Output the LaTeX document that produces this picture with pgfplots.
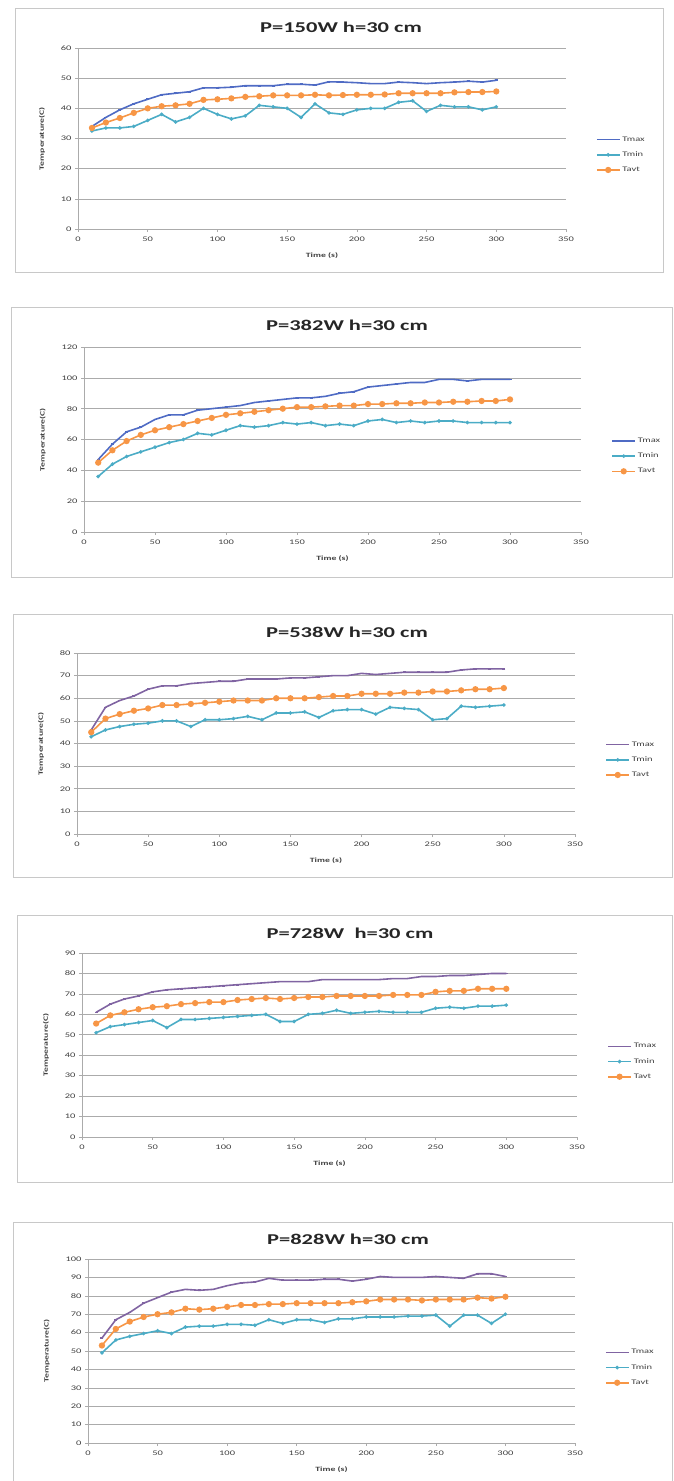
\documentclass[border=0pt]{standalone}
\usepackage{fontspec}
\setmainfont{Carlito}[FakeStretch=1.5]
\usepackage{pgfplots}
\usepackage{pgfplotstable}
\pgfplotsset{compat=1.18}
\definecolor{cmaxb}{HTML}{4F6BC4}
\definecolor{cmaxp}{HTML}{8064A2}
\definecolor{cmin}{HTML}{4BACC6}
\definecolor{cavt}{HTML}{F79646}
\definecolor{gridc}{HTML}{ABABAB}
\definecolor{boxc}{HTML}{C8C8C8}
\definecolor{txtc}{HTML}{404040}

\pgfplotstableread{
t Tmax Tmin Tavt
10 34 32.5 33.5
20 37 33.5 35.3
30 39.5 33.5 36.8
40 41.5 34 38.5
50 43 36 40
60 44.5 38 40.7
70 45 35.5 41
80 45.5 37 41.5
90 46.8 40 42.8
100 46.8 38 43
110 47 36.5 43.3
120 47.5 37.5 43.8
130 47.5 41 44
140 47.5 40.5 44.3
150 48 40 44.3
160 48 37 44.3
170 47.7 41.5 44.5
180 48.8 38.5 44.3
190 48.7 38 44.4
200 48.5 39.5 44.5
210 48.2 40 44.5
220 48.2 40 44.6
230 48.7 42 45
240 48.5 42.5 45
250 48.2 39 45
260 48.5 41 45
270 48.7 40.5 45.3
280 49 40.5 45.4
290 48.7 39.5 45.4
300 49.3 40.5 45.6
}\dA

\pgfplotstableread{
t Tmax Tmin Tavt
10 47 36 45
20 57 44 53
30 65 49 59
40 68 52 63
50 73 55 66
60 76 58 68
70 76 60 70
80 79 64 72
90 80 63 74
100 81 66 76
110 82 69 77
120 84 68 78
130 85 69 79
140 86 71 80
150 87 70 81
160 87 71 81
170 88 69 81.5
180 90 70 82
190 91 69 82
200 94 72 83
210 95 73 83
220 96 71 83.5
230 97 72 83.5
240 97 71 84
250 99 72 84
260 99 72 84.5
270 98 71 84.5
280 99 71 85
290 99 71 85
300 99 71 86
}\dB

\pgfplotstableread{
t Tmax Tmin Tavt
10 46 43 45
20 56 46 51
30 59 47.5 53
40 61 48.5 54.5
50 64 49 55.5
60 65.5 50 57
70 65.5 50 57
80 66.5 47.5 57.5
90 67 50.5 58
100 67.5 50.5 58.5
110 67.5 51 59
120 68.5 52 59
130 68.5 50.5 59
140 68.5 53.5 60
150 69 53.5 60
160 69 54 60
170 69.5 51.5 60.5
180 70 54.5 61
190 70 55 61
200 71 55 62
210 70.5 53 62
220 71 56 62
230 71.5 55.5 62.5
240 71.5 55 62.5
250 71.5 50.5 63
260 71.5 51 63
270 72.5 56.5 63.5
280 73 56 64
290 73 56.5 64
300 73 57 64.5
}\dC

\pgfplotstableread{
t Tmax Tmin Tavt
10 61 51 55.5
20 65 54 59.5
30 67.5 55 61
40 69 56 62.5
50 71 57 63.5
60 72 53.5 64
70 72.5 57.5 65
80 73 57.5 65.5
90 73.5 58 66
100 74 58.5 66
110 74.5 59 67
120 75 59.5 67.5
130 75.5 60 68
140 76 56.5 67.5
150 76 56.5 68
160 76 60 68.5
170 77 60.5 68.5
180 77 62 69
190 77 60.5 69
200 77 61 69
210 77 61.5 69
220 77.5 61 69.5
230 77.5 61 69.5
240 78.5 61 69.5
250 78.5 63 71
260 79 63.5 71.5
270 79 63 71.5
280 79.5 64 72.5
290 80 64 72.5
300 80 64.5 72.5
}\dD

\pgfplotstableread{
t Tmax Tmin Tavt
10 57 49 53
20 67 56 62
30 71 58 66
40 76 59.5 68.5
50 79 61 70
60 82 59.5 71
70 83.5 63 73
80 83 63.5 72.5
90 83.5 63.5 73
100 85.5 64.5 74
110 87 64.5 75
120 87.5 64 75
130 89.5 67 75.5
140 88.5 65 75.5
150 88.5 67 76
160 88.5 67 76
170 89 65.5 76
180 89 67.5 76
190 88 67.5 76.5
200 89 68.5 77
210 90.5 68.5 78
220 90 68.5 78
230 90 69 78
240 90 69 77.5
250 90.5 69.5 78
260 90 63.5 78
270 89.5 69.5 78
280 92 69.5 79
290 92 65 78.5
300 90.5 70 79.5
}\dE

\pgfplotsset{
  excel/.style={
    scale only axis, anchor=south west,
    xmin=0, xmax=350, ymin=0, xtick={0,50,...,350},
    axis x line*=bottom, axis y line*=left,
    axis line style={gridc, line width=0.7pt, -},
    ymajorgrids, grid style={gridc, line width=0.6pt},
    tick align=outside, major tick length=3pt, tick style={gridc, line width=0.6pt},
    ticklabel style={font=\fontsize{7}{8}\selectfont, text=txtc},
    xticklabel style={yshift=-1.5pt},
    /pgf/number format/assume math mode=true,
    xlabel={Time (s)}, ylabel={Temperature(C)},
    label style={font=\bfseries\fontsize{6.5}{7}\selectfont, text=txtc},
    xlabel style={yshift=-4pt},
    ylabel style={yshift=9pt},
    legend style={at={(1.055,0.41)}, anchor=west, draw=none, fill=none,
      font=\fontsize{7}{8}\selectfont, text=txtc, row sep=5pt},
    legend cell align=left,
    legend image code/.code={\draw[mark repeat=2,mark phase=2] plot coordinates {(0cm,0cm) (0.4cm,0cm) (0.8cm,0cm)};},
    clip=false,
  },
  tmaxb/.style={cmaxb, line width=1.6pt, mark=-, mark size=1.5pt},
  tmaxp/.style={cmaxp, line width=1.6pt, mark=-, mark size=1.5pt},
  tmin/.style={cmin, line width=1.6pt, mark=*, mark size=0.9pt},
  tavt/.style={cavt, line width=1.6pt, mark=*, mark size=2.3pt},
}

\begin{document}
\begin{tikzpicture}
\path[use as bounding box] (0pt,0pt) rectangle (673pt,-1481pt);
\tikzset{ttl/.style={font=\bfseries\fontsize{15}{18}\selectfont, text=black!85}}
% frames
\draw[boxc, line width=0.8pt] (15pt,-8pt) rectangle (663pt,-272pt);
\draw[boxc, line width=0.8pt] (11pt,-307pt) rectangle (672.5pt,-577pt);
\draw[boxc, line width=0.8pt] (13pt,-614pt) rectangle (672.5pt,-877pt);
\draw[boxc, line width=0.8pt] (17pt,-915pt) rectangle (672.5pt,-1182pt);
\draw[boxc, line width=0.8pt] (13pt,-1222pt) rectangle (672.5pt,-1481pt);
% titles
\node[ttl] at (341pt,-27pt) {P=150W h=30 cm};
\node[ttl] at (347pt,-325pt) {P=382W h=30 cm};
\node[ttl] at (347pt,-632pt) {P=538W h=30 cm};
\node[ttl] at (350pt,-933pt) {P=728W\ \ h=30 cm};
\node[ttl] at (348pt,-1239pt) {P=828W h=30 cm};

\begin{axis}[excel, at={(78pt,-229pt)}, width=488pt, height=181pt, ymax=60, ytick={0,10,...,60}]
\addplot[tmaxb] table[x=t,y=Tmax]{\dA};
\addplot[tmin] table[x=t,y=Tmin]{\dA};
\addplot[tavt] table[x=t,y=Tavt]{\dA};
\legend{Tmax,Tmin,Tavt}
\end{axis}

\begin{axis}[excel, at={(84pt,-532pt)}, width=497pt, height=185pt, ymax=120, ytick={0,20,...,120}]
\addplot[tmaxb] table[x=t,y=Tmax]{\dB};
\addplot[tmin] table[x=t,y=Tmin]{\dB};
\addplot[tavt] table[x=t,y=Tavt]{\dB};
\legend{Tmax,Tmin,Tavt}
\end{axis}

\begin{axis}[excel, at={(77pt,-834pt)}, width=498pt, height=181pt, ymax=80, ytick={0,10,...,80}]
\addplot[tmaxp] table[x=t,y=Tmax]{\dC};
\addplot[tmin] table[x=t,y=Tmin]{\dC};
\addplot[tavt] table[x=t,y=Tavt]{\dC};
\legend{Tmax,Tmin,Tavt}
\end{axis}

\begin{axis}[excel, at={(82pt,-1137pt)}, width=495pt, height=184pt, ymax=90, ytick={0,10,...,90}]
\addplot[tmaxp] table[x=t,y=Tmax]{\dD};
\addplot[tmin] table[x=t,y=Tmin]{\dD};
\addplot[tavt] table[x=t,y=Tavt]{\dD};
\legend{Tmax,Tmin,Tavt}
\end{axis}

\begin{axis}[excel, at={(88pt,-1443pt)}, width=487pt, height=184pt, ymax=100, ytick={0,10,...,100}]
\addplot[tmaxp] table[x=t,y=Tmax]{\dE};
\addplot[tmin] table[x=t,y=Tmin]{\dE};
\addplot[tavt] table[x=t,y=Tavt]{\dE};
\legend{Tmax,Tmin,Tavt}
\end{axis}
\end{tikzpicture}
\end{document}
